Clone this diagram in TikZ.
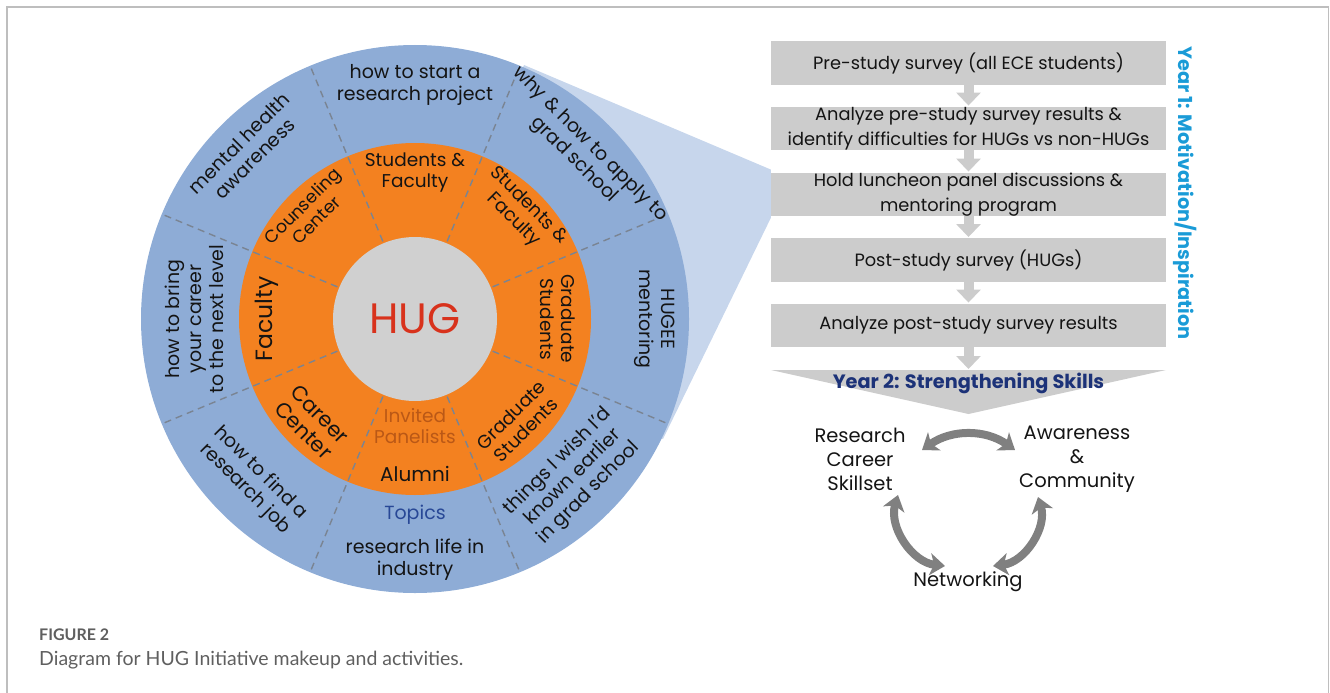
\documentclass[tikz,border=0pt]{standalone}
\usepackage{fontspec}
\setmainfont{Poppins}
\newfontfamily\capfont{Lato}
\usetikzlibrary{arrows.meta,calc}

\definecolor{ringblue}{RGB}{142,172,214}
\definecolor{ringorange}{RGB}{243,129,32}
\definecolor{hubgray}{RGB}{208,208,208}
\definecolor{wedgeblue}{RGB}{199,214,236}
\definecolor{boxgray}{RGB}{204,204,204}
\definecolor{divgray}{RGB}{122,132,146}
\definecolor{hugred}{RGB}{216,50,28}
\definecolor{panelbrown}{RGB}{186,88,22}
\definecolor{topicblue}{RGB}{40,72,150}
\definecolor{yearone}{RGB}{26,155,215}
\definecolor{yeartwo}{RGB}{28,50,120}
\definecolor{cyclegray}{RGB}{128,128,128}
\definecolor{framegray}{RGB}{190,190,190}
\definecolor{captiongray}{RGB}{95,95,95}
\definecolor{ink}{RGB}{20,20,20}

\begin{document}
\begin{tikzpicture}[x=1pt,y=1pt,
  outertxt/.style={text=ink, align=center, font=\fontsize{19}{22}\selectfont, inner sep=0pt},
  innertxt/.style={text=ink, align=center, font=\fontsize{18.5}{21}\selectfont, inner sep=0pt},
  stepbox/.style={fill=boxgray, minimum width=395pt, minimum height=43.5pt, inner sep=0pt,
    align=center, text=ink, font=\fontsize{17.8}{25}\selectfont},
  flowarrow/.style={draw=boxgray, line width=10pt, -{Triangle[length=13pt,width=24pt]}},
  cyclearrow/.style={draw=cyclegray, line width=8pt,
    {Stealth[length=15pt,width=22pt,inset=4pt]}-{Stealth[length=15pt,width=22pt,inset=4pt]}},
  cycletxt/.style={text=ink, align=center, font=\fontsize{19.5}{24}\selectfont, inner sep=0pt},
  divider/.style={draw=divgray, line width=1.4pt, dash pattern=on 7pt off 5pt},
  yeartxt/.style={font=\bfseries\fontsize{19.3}{22}\selectfont, inner sep=0pt},
  captxt/.style={anchor=west, inner sep=0pt, text=captiongray},
]
\useasboundingbox (0,0) rectangle (1330,-693);

% outer frame
\draw[framegray, line width=1.5pt] (7,-693) -- (7,-7) -- (1328.5,-7) -- (1328.5,-693);

% ---- year 1 process steps ----
\node[stepbox] (b1) at (968.5,-63) {Pre-study survey (all ECE students)};
\node[stepbox] (b2) at (968.5,-128.5) {Analyze pre-study survey results \&\\identify difficulties for HUGs vs non-HUGs};
\node[stepbox] (b3) at (968.5,-194.5) {Hold luncheon panel discussions \&\\mentoring program};
\node[stepbox] (b4) at (968.5,-260) {Post-study survey (HUGs)};
\node[stepbox] (b5) at (968.5,-325.5) {Analyze post-study survey results};

\draw[flowarrow] (b1.south) -- ([yshift=1pt]b2.north);
\draw[flowarrow] (b2.south) -- ([yshift=1pt]b3.north);
\draw[flowarrow] (b3.south) -- ([yshift=1pt]b4.north);
\draw[flowarrow] (b4.south) -- ([yshift=1pt]b5.north);

% year 2 chevron
\coordinate (y2l) at (771,-370);
\coordinate (y2r) at (1166,-370);
\coordinate (y2tip) at (968.5,-414);
\coordinate (y2top) at (968.5,-369);
\fill[boxgray] (y2l) -- (y2r) -- (y2tip) -- cycle;
\draw[flowarrow] (b5.south) -- (y2top);
\node[yeartxt, text=yeartwo] (y2) at (968.5,-383) {Year 2: Strengthening Skills};
\node[yeartxt, text=yearone, rotate=-90] (y1) at (1185,-193) {Year 1: Motivation/Inspiration};

% ---- zoom wedge from the wheel to the panel step ----
\coordinate (C) at (415,-319);
\fill[wedgeblue] (C) -- (524,-65) -- ([yshift=3pt]b3.north west) -- ([yshift=-1.5pt]b3.south west) -- (663,-439) -- cycle;

% ---- wheel ----
\node[circle, fill=ringblue, minimum size=548pt, inner sep=0pt] (outer) at (C) {};
\node[circle, fill=ringorange, minimum size=352pt, inner sep=0pt] (inner) at (C) {};
\foreach \a in {22.5,67.5,...,337.5}
  \draw[divider] ($(C)+(\a:84)$) -- ($(C)+(\a:271)$);
\node[circle, fill=hubgray, minimum size=164pt, inner sep=0pt, text=hugred,
  font=\fontsize{42.5}{42}\selectfont] (hub) at (C) {HUG};

% outer ring: topics
\node[outertxt] (t1) at ($(C)+(90:234)$) {how to start a\\research project};
\node[outertxt, rotate=-45] (t2) at ($(C)+(45:236)$) {why \& how to apply to\\grad school};
\node[outertxt, rotate=-90] (t3) at ($(C)+(0:240)$) {HUGEE\\mentoring};
\node[outertxt, rotate=45] (t4) at ($(C)+(-45:224)$) {things I wish I'd\\known earlier\\in grad school};
\node[outertxt, text=topicblue] (topics) at (415,-515) {Topics};
\node[outertxt] (t5) at ($(C)+(-90:241)$) {research life in\\industry};
\node[outertxt, rotate=-45] (t6) at ($(C)+(-135:229)$) {how to find a\\research job};
\node[outertxt, rotate=90] (t7) at ($(C)+(180:221)$) {how to bring\\your career\\to the next level};
\node[outertxt, rotate=45] (t8) at ($(C)+(135:238)$) {mental health\\awareness};

% inner ring: panelists
\node[innertxt] (p1) at ($(C)+(90:146)$) {Students \&\\Faculty};
\node[innertxt, rotate=-45] (p2) at ($(C)+(45:150)$) {Students \&\\Faculty};
\node[innertxt, rotate=-90] (p3) at ($(C)+(0:143)$) {Graduate\\Students};
\node[innertxt, rotate=45] (p4) at ($(C)+(-45:146)$) {Graduate\\Students};
\node[innertxt, text=panelbrown] (panel) at (415,-426) {Invited\\Panelists};
\node[innertxt, font=\fontsize{20}{22}\selectfont] (p5) at (415,-474) {Alumni};
\node[innertxt, rotate=-45, font=\fontsize{21}{23}\selectfont] (p6) at ($(C)+(-135:146)$) {Career\\Center};
\node[innertxt, rotate=90, font=\fontsize{23.5}{24}\selectfont] (p7) at ($(C)+(180:148)$) {Faculty};
\node[innertxt, rotate=45, font=\fontsize{17.5}{20}\selectfont] (p8) at ($(C)+(135:150)$) {Counseling\\Center};

% ---- year 2 skill cycle ----
\node[cycletxt] (rcs) at (860,-459) {Research\\Career\\Skillset};
\node[cycletxt] (aac) at (1077,-459) {Awareness\\\&\\Community};
\node[cycletxt] (net) at (968,-582) {Networking};
\coordinate (rcs-e) at (922,-450);
\coordinate (aac-w) at (1015,-450);
\coordinate (rcs-s) at (898,-495);
\coordinate (aac-s) at (1038,-497);
\coordinate (net-w) at (945,-566);
\coordinate (net-e) at (993,-566);
\draw[cyclearrow] (rcs-e) to[bend left=35] (aac-w);
\draw[cyclearrow] (rcs-s) to[bend right=50] (net-w);
\draw[cyclearrow] (aac-s) to[bend left=50] (net-e);

% ---- caption ----
\node[captxt, font=\capfont\bfseries\fontsize{16}{20}\selectfont] (figlbl) at (39,-635) {FIGURE 2};
\node[captxt, font=\capfont\fontsize{19.5}{22}\selectfont] (figcap) at (39,-660) {Diagram for HUG Initiative makeup and activities.};
\end{tikzpicture}
\end{document}
